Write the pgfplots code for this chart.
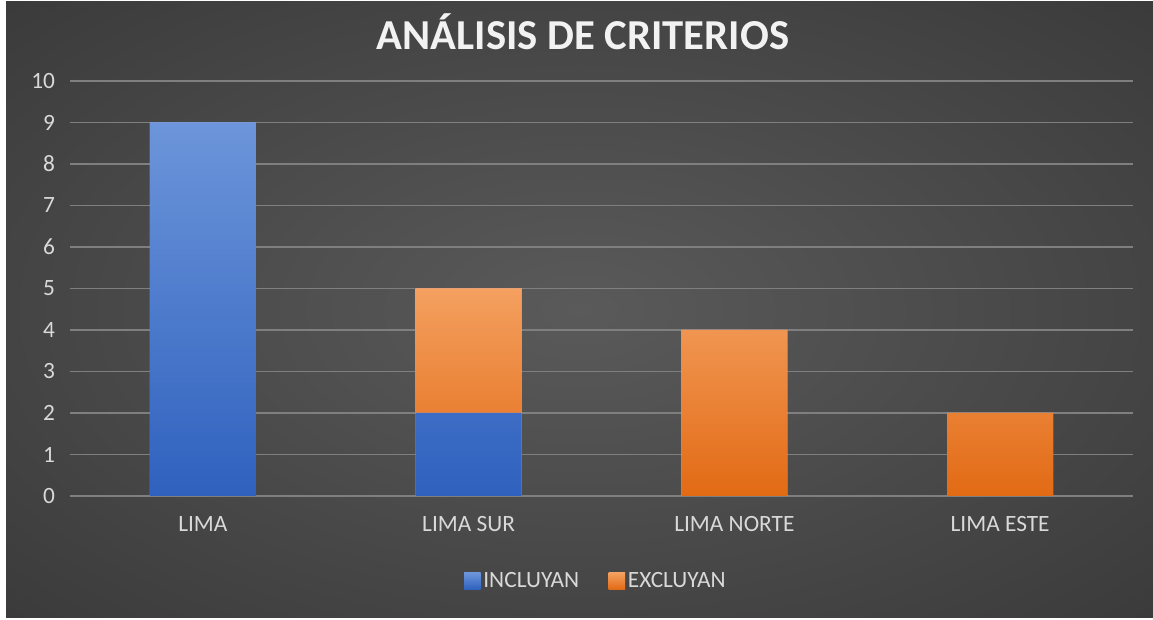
\documentclass[border=0pt]{standalone}
\usepackage{pgfplots}
\pgfplotsset{compat=1.18}
\usepackage{fontspec}
\setmainfont{Carlito}
\definecolor{bgin}{HTML}{5A5A5A}
\definecolor{bgout}{HTML}{2E2E2E}
\definecolor{bgcorner}{HTML}{262626}
\definecolor{gridc}{HTML}{7F7F7F}
\definecolor{labc}{HTML}{D9D9D9}
\definecolor{titc}{HTML}{F2F2F2}
\definecolor{blueT}{HTML}{6C95DA}
\definecolor{blueM}{HTML}{3C6DC8}
\definecolor{blueB}{HTML}{2F61BE}
\definecolor{orT}{HTML}{F4A060}
\definecolor{orM}{HTML}{F27D24}
\definecolor{orB}{HTML}{E26A14}
\pgfdeclareradialshading{chartbg}{\pgfpoint{0bp}{0bp}}{color(0bp)=(bgin); color(50bp)=(bgout); color(72bp)=(bgcorner)}
\begin{document}
\begin{tikzpicture}
\fill[white] (0pt,0pt) rectangle (864.75pt,465pt);
\shade[shading=chartbg] (4.5pt,1.5pt) rectangle (864.75pt,463.5pt);
\node[font=\bfseries\fontsize{32}{38}\selectfont, text=titc] at (437.25pt,441pt) {ANÁLISIS DE CRITERIOS};
\begin{axis}[
  at={(52.5pt,93pt)}, anchor=south west,
  scale only axis,
  width=797.25pt, height=311.25pt,
  xmin=-0.5, xmax=3.5, ymin=0, ymax=10,
  ybar stacked, bar width=79.5pt,
  axis line style={draw=none},
  major tick length=0pt,
  xtick=data,
  xticklabels={LIMA, LIMA SUR, LIMA NORTE, LIMA ESTE},
  ytick={0,1,...,10},
  ymajorgrids,
  grid style={color=gridc, line width=1.1pt},
  tick label style={font=\fontsize{17.5}{21}\selectfont, text=labc},
  /pgf/number format/assume math mode=true,
  yticklabel style={anchor=east, inner sep=0pt, xshift=-11pt},
  xticklabel style={anchor=north, inner sep=0pt, yshift=-15pt},
  legend style={at={(0.495,-0.205)}, anchor=center, draw=none, fill=none,
    text=labc, font=\fontsize{17.5}{21}\selectfont, legend columns=2,
    /tikz/every even column/.append style={column sep=20pt}},
  legend image code/.code={\path[#1, draw=none] (0pt,-6.2pt) rectangle (12.5pt,6.2pt);},
  legend cell align=left,
]
\addplot+[draw=none, top color=blueT, middle color=blueM, bottom color=blueB] coordinates {(0,9) (1,2) (2,0) (3,0)};
\addlegendentry{INCLUYAN}
\addplot+[draw=none, top color=orT, middle color=orM, bottom color=orB] coordinates {(0,0) (1,3) (2,4) (3,2)};
\addlegendentry{EXCLUYAN}
\end{axis}
\end{tikzpicture}
\end{document}
